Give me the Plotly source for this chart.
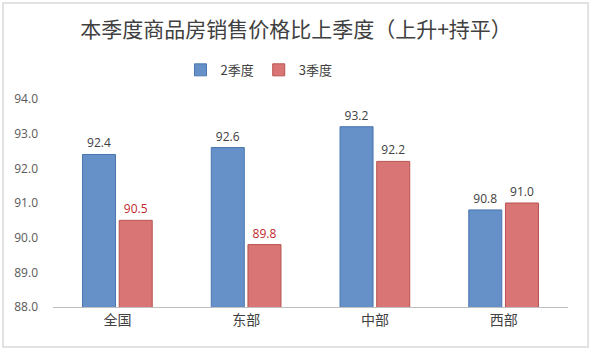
import plotly.graph_objects as go

categories = ["全国", "东部", "中部", "西部"]
q2_values = [92.4, 92.6, 93.2, 90.8]
q3_values = [90.5, 89.8, 92.2, 91.0]
q2_label_colors = ["#404040", "#404040", "#404040", "#404040"]
q3_label_colors = ["#C0282D", "#C0282D", "#404040", "#404040"]
y_ticks = [88, 89, 90, 91, 92, 93, 94]

font = "Noto Sans CJK SC"

fig = go.Figure()
fig.add_trace(go.Bar(
    x=categories, y=q2_values, name="2季度",
    marker=dict(color="#6590C8", line=dict(color="#4A76B0", width=1)),
    text=[f"{v:.1f}" for v in q2_values], textposition="outside",
    textfont=dict(color=q2_label_colors, size=12, family="Open Sans"),
    cliponaxis=False,
))
fig.add_trace(go.Bar(
    x=categories, y=q3_values, name="3季度",
    marker=dict(color="#D97574", line=dict(color="#B85350", width=1)),
    text=[f"{v:.1f}" for v in q3_values], textposition="outside",
    textfont=dict(color=q3_label_colors, size=12, family="Open Sans"),
    cliponaxis=False,
))

fig.update_layout(
    width=592, height=351,
    margin=dict(l=53, r=24, t=99, b=44),
    paper_bgcolor="white", plot_bgcolor="white",
    barmode="group", bargap=0.43, bargroupgap=0.1,
    title=dict(text="本季度商品房销售价格比上季度（上升+持平）",
               font=dict(family=font, size=21, color="#404040"),
               x=0.5, xanchor="center", y=0.915, yanchor="middle"),
    legend=dict(orientation="h", x=0.40, xanchor="center", y=1.14, yanchor="middle",
                font=dict(family=font, size=13, color="#404040"),
                itemwidth=30, traceorder="normal"),
    xaxis=dict(showline=True, linecolor="#BFBFBF", linewidth=1, ticks="",
               tickfont=dict(family=font, size=14, color="#404040")),
    yaxis=dict(range=[88, 94], tickvals=y_ticks, ticktext=[f"{v:.1f}" for v in y_ticks],
               showgrid=False, zeroline=False, showline=False,
               tickfont=dict(family="Open Sans", size=12, color="#595959"), ticklabelstandoff=14),
    font=dict(family=font),
    showlegend=True,
)
fig.add_shape(type="rect", xref="paper", yref="paper",
              x0=-0.097, x1=1.039, y0=-0.192, y1=1.4615,
              line=dict(color="#D9D9D9", width=1.5), layer="below")

fig.write_html("out.html")
